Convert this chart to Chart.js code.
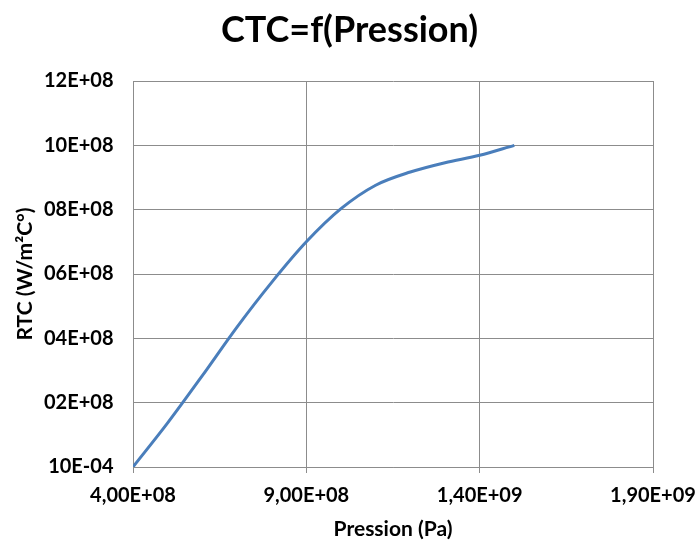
<!DOCTYPE html>
<html><head><meta charset="utf-8">
<script src="https://cdn.jsdelivr.net/npm/chart.js@4"></script>
<style>html,body{margin:0;padding:0;background:#fff;overflow:hidden;}</style>
</head><body>
<canvas id="c" width="699" height="542"></canvas>
<script>
const pressure = [4e8, 5e8, 6e8, 7e8, 8e8, 9e8, 1.0e9, 1.1e9, 1.2e9, 1.3e9, 1.4e9, 1.5e9];
const rtc      = [0, 1.37e8, 2.84e8, 4.35e8, 5.74e8, 7.0e8, 8.03e8, 8.76e8, 9.17e8, 9.46e8, 9.69e8, 1.0e9];
const xTickValues = [4e8, 9e8, 1.4e9, 1.9e9];
const xTickLabels = ['4,00E+08', '9,00E+08', '1,40E+09', '1,90E+09'];
const yTickValues = [0, 2e8, 4e8, 6e8, 8e8, 1.0e9, 1.2e9];
const yTickLabels = ['10E-04', '02E+08', '04E+08', '06E+08', '08E+08', '10E+08', '12E+08'];

function lookup(vals, labels, v) {
  for (let i = 0; i < vals.length; i++) {
    if (Math.abs(vals[i] - v) < 1e3) return labels[i];
  }
  return '';
}

Chart.defaults.font.family = 'Lato';
Chart.defaults.color = '#000';
const gridColor = '#8c8c8c';

new Chart(document.getElementById('c'), {
  type: 'line',
  data: {
    datasets: [{
      data: pressure.map((p, i) => ({x: p, y: rtc[i]})),
      borderColor: '#4a7ebb',
      borderWidth: 3,
      pointRadius: 0,
      fill: false,
      cubicInterpolationMode: 'monotone'
    }]
  },
  options: {
    responsive: false,
    animation: false,
    devicePixelRatio: 1,
    layout: {padding: 0},
    plugins: {
      legend: {display: false},
      tooltip: {enabled: false},
      title: {
        display: true,
        text: 'CTC=f(Pression)',
        color: '#000',
        font: {family: 'Lato', size: 36, weight: 'bold'},
        padding: {top: 8.4, bottom: 29.4}
      }
    },
    scales: {
      x: {
        type: 'linear',
        min: 4e8, max: 1.9e9,
        afterFit: s => { s.height = 75; s.paddingRight = 46; s.paddingLeft = 0; },
        grid: {color: gridColor, lineWidth: 1, drawTicks: true, tickLength: 6, tickColor: gridColor},
        border: {color: gridColor, width: 1},
        ticks: {
          stepSize: 5e8, padding: 10.5, maxRotation: 0, autoSkip: false,
          font: {size: 20, weight: 'bold'}, color: '#000',
          callback: v => lookup(xTickValues, xTickLabels, v)
        },
        title: {display: true, text: 'Pression (Pa)', color: '#000',
          font: {size: 21, weight: 'bold'}, padding: {top: 0, bottom: 0}}
      },
      y: {
        min: 0, max: 1.2e9,
        afterFit: s => { s.width = 133; },
        grid: {color: gridColor, lineWidth: 1, drawTicks: false},
        border: {color: gridColor, width: 1},
        ticks: {
          stepSize: 2e8, padding: 19.5,
          font: {size: 20, weight: 'bold'}, color: '#000',
          callback: v => lookup(yTickValues, yTickLabels, v)
        },
        title: {display: true, text: 'RTC (W/m²C°)', color: '#000',
          font: {size: 21, weight: 'bold'}, padding: {top: 12.5, bottom: 0}}
      }
    }
  }
});
</script>
</body></html>
